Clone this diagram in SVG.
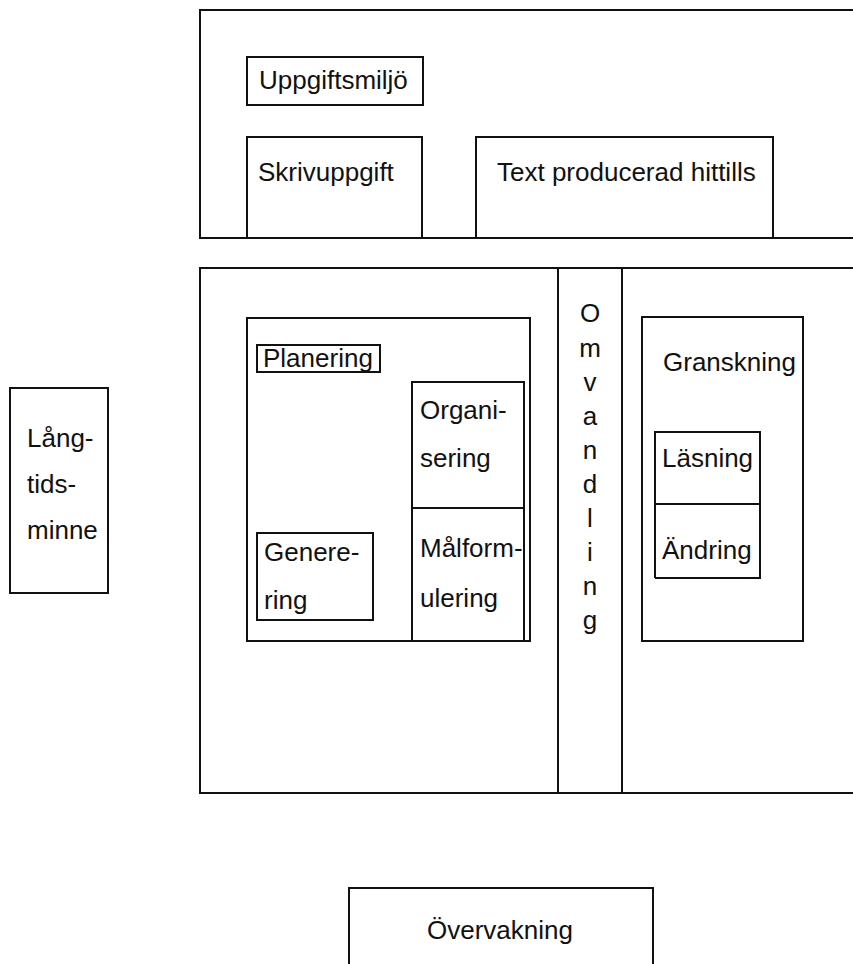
<svg xmlns="http://www.w3.org/2000/svg" width="853" height="964" viewBox="0 0 853 964">
<style>
.b{fill:none;stroke:#111;stroke-width:2}
.t{font-family:"Liberation Sans",Arial,sans-serif;font-size:26px;fill:#111}
.c{text-anchor:middle}
</style>
<rect width="853" height="964" fill="#fff"/>
<g id="uppgiftsmiljo-container">
<path class="b" d="M853,10 H200 V238 H853"/>
</g>
<g id="uppgiftsmiljo"><rect class="b" x="247" y="57" width="176" height="48"/><text class="t" x="259" y="89">Uppgiftsmiljö</text></g>
<g id="skrivuppgift"><path class="b" d="M247,238 V137 H422 V238"/><text class="t" x="258" y="181">Skrivuppgift</text></g>
<g id="textproducerad"><path class="b" d="M476,238 V137 H773 V238"/><text class="t" x="497" y="181">Text producerad hittills</text></g>
<g id="process-container"><path class="b" d="M853,268 H200 V793 H853"/></g>
<g id="omvandling">
<path class="b" d="M558,268 V793 M622,268 V793"/>
<text class="t c" x="590"><tspan x="590" y="322">O</tspan><tspan x="590" y="357">m</tspan><tspan x="590" y="391">v</tspan><tspan x="590" y="425">a</tspan><tspan x="590" y="459">n</tspan><tspan x="590" y="493">d</tspan><tspan x="590" y="527">l</tspan><tspan x="590" y="561">i</tspan><tspan x="590" y="595">n</tspan><tspan x="590" y="629">g</tspan></text>
</g>
<g id="planering-outer"><rect class="b" x="247" y="318" width="283" height="323"/></g>
<g id="planering"><rect class="b" x="257" y="345" width="123" height="27"/><text class="t" x="263" y="367">Planering</text></g>
<g id="organisering"><path class="b" d="M412,641 V382 H524 V641 M412,508 H524"/><text class="t" x="420" y="419">Organi-</text><text class="t" x="420" y="467">sering</text></g>
<g id="malformulering"><text class="t" x="420" y="557">Målform-</text><text class="t" x="420" y="607">ulering</text></g>
<g id="generering"><rect class="b" x="257" y="533" width="116" height="87"/><text class="t" x="264" y="561">Genere-</text><text class="t" x="264" y="609">ring</text></g>
<g id="granskning"><rect class="b" x="642" y="317" width="161" height="324"/><text class="t" x="663" y="371">Granskning</text></g>
<g id="lasning"><path class="b" d="M655,578 V432 H760 V578 H655 M655,504 H760"/><text class="t" x="662" y="467">Läsning</text></g>
<g id="andring"><text class="t" x="662" y="559">Ändring</text></g>
<g id="langtidsminne"><rect class="b" x="10" y="388" width="98" height="205"/><text class="t" x="27" y="447">Lång-</text><text class="t" x="27" y="493">tids-</text><text class="t" x="27" y="539">minne</text></g>
<g id="overvakning"><path class="b" d="M349,964 V888 H653 V964"/><text class="t c" x="500" y="939">Övervakning</text></g>
<g id="connectors"></g>
</svg>
